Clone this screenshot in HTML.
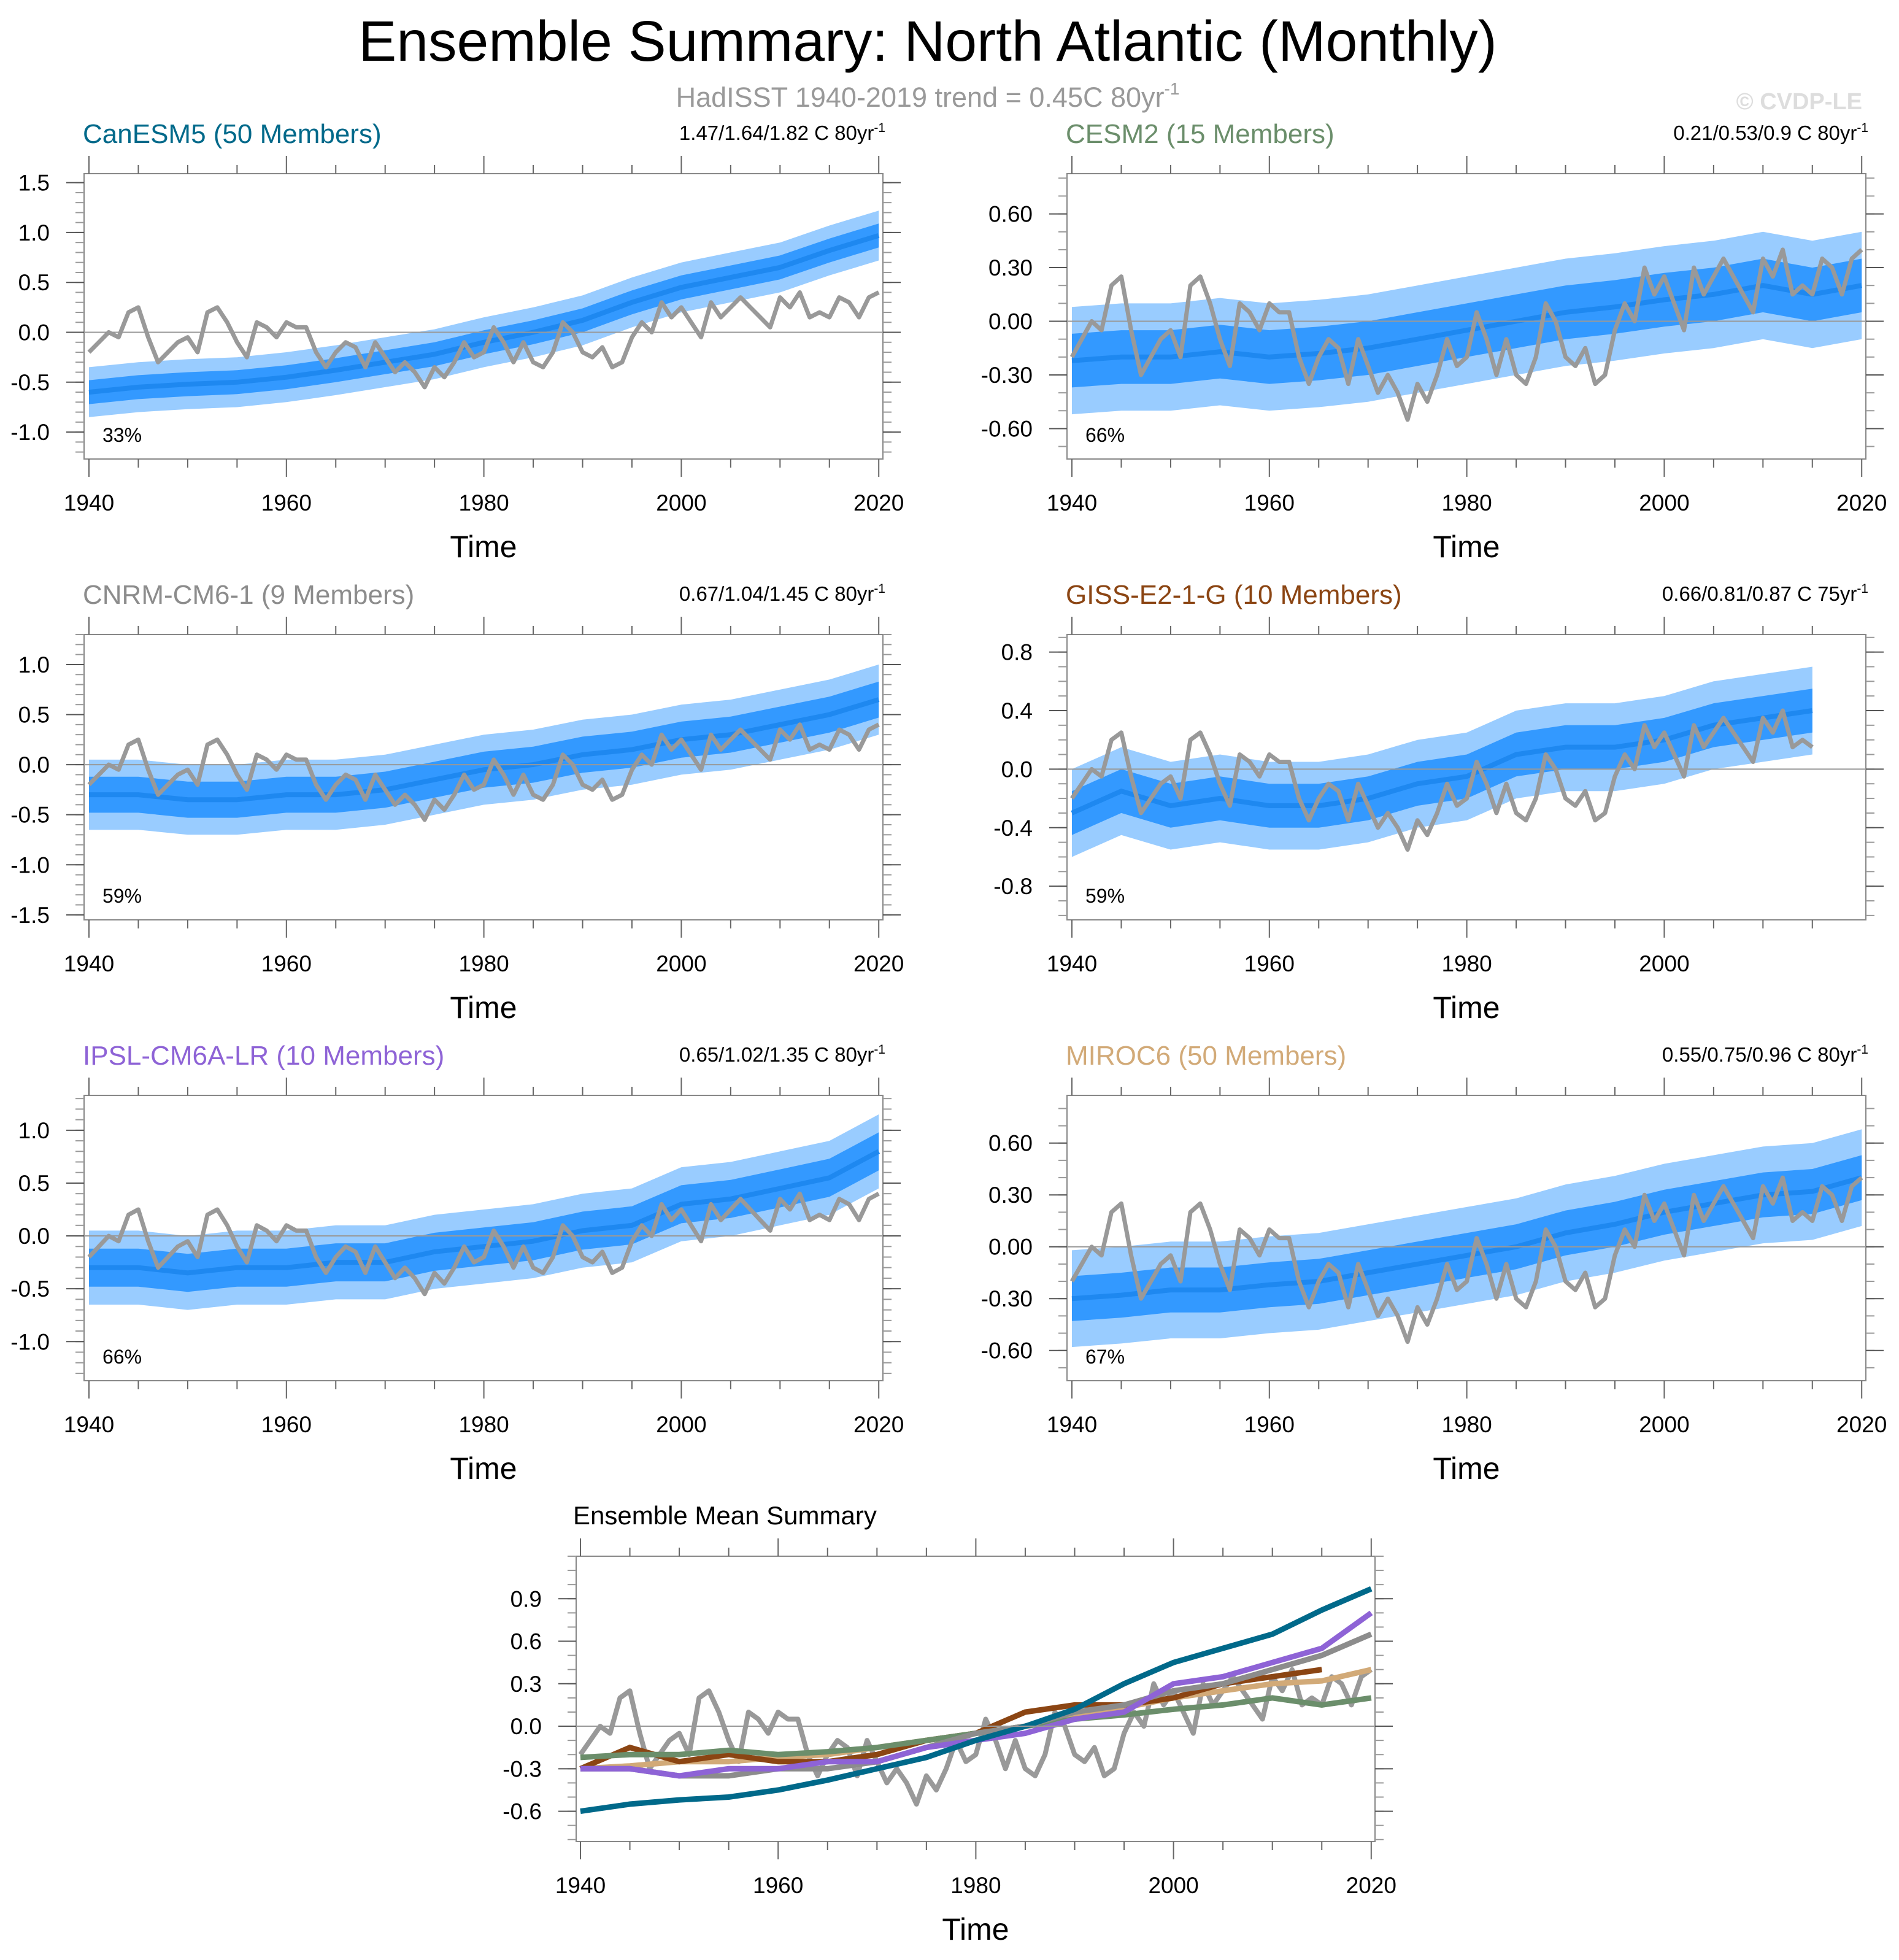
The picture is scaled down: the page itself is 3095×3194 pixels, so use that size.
<!DOCTYPE html>
<html><head><meta charset="utf-8"><style>
html,body{margin:0;padding:0;background:#fff;}
svg{display:block;font-family:"Liberation Sans",sans-serif;}
</style></head><body>
<svg id="c" width="3095" height="3194" viewBox="0 0 3095 3194" xmlns="http://www.w3.org/2000/svg">
<text x="1512" y="99" font-size="93" text-anchor="middle" fill="#000">Ensemble Summary: North Atlantic (Monthly)</text>
<text x="1512" y="174" font-size="45" text-anchor="middle" fill="#999">HadISST 1940-2019 trend = 0.45C 80yr<tspan font-size="28" dy="-20">-1</tspan></text>
<text x="3035" y="178" font-size="38" font-weight="bold" text-anchor="end" fill="#ddd">© CVDP-LE</text>
</svg>
<script>
// Observations (HadISST), yearly 1940..2020
const obsYears = [1940,1941,1942,1943,1944,1945,1946,1947,1948,1949,1950,1951,1952,1953,1954,1955,1956,1957,1958,1959,1960,1961,1962,1963,1964,1965,1966,1967,1968,1969,1970,1971,1972,1973,1974,1975,1976,1977,1978,1979,1980,1981,1982,1983,1984,1985,1986,1987,1988,1989,1990,1991,1992,1993,1994,1995,1996,1997,1998,1999,2000,2001,2002,2003,2004,2005,2006,2007,2008,2009,2010,2011,2012,2013,2014,2015,2016,2017,2018,2019,2020];
const obsValues = [-0.2,-0.1,0.0,-0.05,0.2,0.25,-0.05,-0.3,-0.2,-0.1,-0.05,-0.2,0.2,0.25,0.1,-0.1,-0.25,0.1,0.05,-0.05,0.1,0.05,0.05,-0.2,-0.35,-0.2,-0.1,-0.15,-0.35,-0.1,-0.25,-0.4,-0.3,-0.4,-0.55,-0.35,-0.45,-0.3,-0.1,-0.25,-0.2,0.05,-0.1,-0.3,-0.1,-0.3,-0.35,-0.2,0.1,0.0,-0.2,-0.25,-0.15,-0.35,-0.3,-0.05,0.1,0.0,0.3,0.15,0.25,0.1,-0.05,0.3,0.15,0.25,0.35,0.25,0.15,0.05,0.35,0.25,0.4,0.15,0.2,0.15,0.35,0.3,0.15,0.35,0.4];
// Model ensemble means, every 5 years from 1940
const modelYears = [1940,1945,1950,1955,1960,1965,1970,1975,1980,1985,1990,1995,2000,2005,2010,2015,2020];
const canesm5Mean = [-0.6,-0.55,-0.52,-0.5,-0.45,-0.38,-0.3,-0.22,-0.1,0.0,0.12,0.3,0.45,0.55,0.65,0.82,0.97];
const cesm2Mean = [-0.22,-0.2,-0.2,-0.17,-0.2,-0.18,-0.15,-0.1,-0.05,0.0,0.05,0.08,0.12,0.15,0.2,0.15,0.2];
const cnrmMean = [-0.3,-0.3,-0.35,-0.35,-0.3,-0.3,-0.25,-0.15,-0.05,0.0,0.1,0.15,0.25,0.3,0.4,0.5,0.65];
const gissMean = [-0.3,-0.15,-0.25,-0.2,-0.25,-0.25,-0.2,-0.1,-0.05,0.1,0.15,0.15,0.2,0.3,0.35,0.4];
const ipslMean = [-0.3,-0.3,-0.35,-0.3,-0.3,-0.25,-0.25,-0.15,-0.1,-0.05,0.05,0.1,0.3,0.35,0.45,0.55,0.8];
const mirocMean = [-0.3,-0.28,-0.25,-0.25,-0.22,-0.2,-0.15,-0.1,-0.05,0.0,0.08,0.13,0.2,0.25,0.3,0.32,0.4];
// Ensemble spread half-widths (outer = min/max, inner = 10-90%)
const spreadOuter = [0.25,0.3,0.35,0.3,0.35,0.28];
const spreadInner = [0.12,0.15,0.18,0.15,0.18,0.13];

const NS="http://www.w3.org/2000/svg";
const svg=document.getElementById('c');
function mk(tag,attrs,parent){const e=document.createElementNS(NS,tag);for(const k in attrs)e.setAttribute(k,attrs[k]);(parent||svg).appendChild(e);return e;}

const panels=[
 {name:'canesm5',title:'CanESM5 (50 Members)',color:'#00698a',trend:'1.47/1.64/1.82 C 80yr',pct:'33%',mean:canesm5Mean,x:137,y:283,ymin:-1.27,ymax:1.59,ticks:[1.5,1.0,0.5,0.0,-0.5,-1.0],fmt:1,minor:0.1,x1:2020.4,si:0},
 {name:'cesm2',title:'CESM2 (15 Members)',color:'#6b8e6b',trend:'0.21/0.53/0.9 C 80yr',pct:'66%',mean:cesm2Mean,x:1739,y:283,ymin:-0.77,ymax:0.825,ticks:[0.6,0.3,0,-0.3,-0.6],fmt:2,minor:0.1,x1:2020.4,si:1},
 {name:'cnrm',title:'CNRM-CM6-1 (9 Members)',color:'#8c8c8c',trend:'0.67/1.04/1.45 C 80yr',pct:'59%',mean:cnrmMean,x:137,y:1034,ymin:-1.55,ymax:1.30,ticks:[1.0,0.5,0,-0.5,-1.0,-1.5],fmt:1,minor:0.1,x1:2020.4,si:2},
 {name:'giss',title:'GISS-E2-1-G (10 Members)',color:'#8b4513',trend:'0.66/0.81/0.87 C 75yr',pct:'59%',mean:gissMean,x:1739,y:1034,ymin:-1.03,ymax:0.92,ticks:[0.8,0.4,0,-0.4,-0.8],fmt:1,minor:0.1,x1:2015.4,si:3},
 {name:'ipsl',title:'IPSL-CM6A-LR (10 Members)',color:'#8e63d6',trend:'0.65/1.02/1.35 C 80yr',pct:'66%',mean:ipslMean,x:137,y:1785,ymin:-1.37,ymax:1.33,ticks:[1.0,0.5,0,-0.5,-1.0],fmt:1,minor:0.1,x1:2020.4,si:4},
 {name:'miroc6',title:'MIROC6 (50 Members)',color:'#d2aa78',trend:'0.55/0.75/0.96 C 80yr',pct:'67%',mean:mirocMean,x:1739,y:1785,ymin:-0.775,ymax:0.876,ticks:[0.6,0.3,0,-0.3,-0.6],fmt:2,minor:0.1,x1:2020.4,si:5},
];
const W=1302,H=465;

function axes(g,p,ox,oy,xs,ys,x1){
  mk('rect',{x:ox,y:oy,width:W,height:H,fill:'none',stroke:'#888','stroke-width':2},g);
  for(let yr=1940;yr<=x1;yr+=5){
    const X=xs(yr), maj=yr%20===0;
    const L=maj?29:14;
    mk('line',{x1:X,y1:oy,x2:X,y2:oy-L,stroke:'#666','stroke-width':2},g);
    mk('line',{x1:X,y1:oy+H,x2:X,y2:oy+H+L,stroke:'#666','stroke-width':2},g);
    if(maj){const t=mk('text',{x:X,y:oy+H+84,'font-size':37,'text-anchor':'middle',fill:'#000'},g);t.textContent=yr;
      
      }
  }
  const lo=Math.ceil(p.ymin/p.minor-1e-6),hi=Math.floor(p.ymax/p.minor+1e-6);
  for(let k=lo;k<=hi;k++){const Y=ys(k*p.minor);
    mk('line',{x1:ox,y1:Y,x2:ox-14,y2:Y,stroke:'#999','stroke-width':2},g);
    mk('line',{x1:ox+W,y1:Y,x2:ox+W+14,y2:Y,stroke:'#999','stroke-width':2},g);}
  p.ticks.forEach(v=>{const Y=ys(v);
    mk('line',{x1:ox,y1:Y,x2:ox-29,y2:Y,stroke:'#555','stroke-width':2},g);
    mk('line',{x1:ox+W,y1:Y,x2:ox+W+29,y2:Y,stroke:'#555','stroke-width':2},g);
    const t=mk('text',{x:ox-56,y:Y+13,'font-size':37,'text-anchor':'end',fill:'#000'},g);t.textContent=v.toFixed(p.fmt);
    
    });
  const tt=mk('text',{x:ox+W/2,y:oy+H+160,'font-size':50,'text-anchor':'middle',fill:'#000'},g);tt.textContent='Time';
  
  
  mk('line',{x1:ox,y1:ys(0),x2:ox+W,y2:ys(0),stroke:'#999','stroke-width':2},g);
}
function linePath(xsArr,vals,xs,ys){return vals.map((v,i)=>(i?'L':'M')+xs(xsArr[i]).toFixed(1)+','+ys(v).toFixed(1)).join('');}
function bandPath(xsArr,vals,hw,xs,ys){let d='';vals.forEach((v,i)=>{d+=(i?'L':'M')+xs(xsArr[i]).toFixed(1)+','+ys(v+hw).toFixed(1);});
  for(let i=vals.length-1;i>=0;i--)d+='L'+xs(xsArr[i]).toFixed(1)+','+ys(vals[i]-hw).toFixed(1);return d+'Z';}

panels.forEach(p=>{
  const g=mk('g',{});
  
  
  const ox=p.x,oy=p.y;
  const xs=yr=>ox+8+(yr-1940)*16.09;
  const ys=v=>oy+(p.ymax-v)/(p.ymax-p.ymin)*H;
  const clipId='clip-'+p.name;
  const cp=mk('clipPath',{id:clipId},g);mk('rect',{x:ox,y:oy,width:W,height:H},cp);
  const dg=mk('g',{'clip-path':'url(#'+clipId+')'},g);
  const yrs=modelYears.slice(0,p.mean.length);
  const b1=mk('path',{d:bandPath(yrs,p.mean,spreadOuter[p.si],xs,ys),fill:'#99ccff'},dg);
  
  
  const b2=mk('path',{d:bandPath(yrs,p.mean,spreadInner[p.si],xs,ys),fill:'#3399ff'},dg);
  
  
  const ml=mk('path',{d:linePath(yrs,p.mean,xs,ys),fill:'none',stroke:'#1e88f0','stroke-width':8},dg);
  
  
  const oyrs=obsYears.filter(y=>y<=p.x1), ov=obsValues.slice(0,oyrs.length);
  const ol=mk('path',{d:linePath(oyrs,ov,xs,ys),fill:'none',stroke:'#999','stroke-width':7,'stroke-linejoin':'round'},dg);
  
  
  axes(g,p,ox,oy,xs,ys,p.x1);
  const t=mk('text',{x:ox-2,y:oy-50,'font-size':44,fill:p.color},g);t.textContent=p.title;
  
  
  const r=mk('text',{x:ox+W+4,y:oy-55,'font-size':33,'text-anchor':'end',fill:'#000'},g);
  r.innerHTML=p.trend+'<tspan font-size="21" dy="-13">-1</tspan>';
  
  
  const pc=mk('text',{x:ox+30,y:oy+H-28,'font-size':32,fill:'#000'},g);pc.textContent=p.pct;
  
  
});

// Bottom summary panel
(function(){
  const p={ymin:-0.814,ymax:1.2,ticks:[0.9,0.6,0.3,0,-0.3,-0.6],fmt:1,minor:0.1};
  const ox=939,oy=2536;
  const g=mk('g',{});
  
  
  const xs=yr=>ox+7+(yr-1940)*16.11;
  const ys=v=>oy+(p.ymax-v)/(p.ymax-p.ymin)*H;
  const cp=mk('clipPath',{id:'clip-sum'},g);mk('rect',{x:ox,y:oy,width:W,height:H},cp);
  const dg=mk('g',{'clip-path':'url(#clip-sum)'},g);
  const ol=mk('path',{d:linePath(obsYears,obsValues,xs,ys),fill:'none',stroke:'#999','stroke-width':8,'stroke-linejoin':'round'},dg);
  
  
  [5,3,1,2,4,0].forEach(i=>{const q=panels[i];
    const l=mk('path',{d:linePath(modelYears.slice(0,q.mean.length),q.mean,xs,ys),fill:'none',stroke:q.color,'stroke-width':9},dg);
    
    });
  axes(g,p,ox,oy,xs,ys,2020.4);
  const t=mk('text',{x:ox-5,y:oy-52,'font-size':42,fill:'#000'},g);t.textContent='Ensemble Mean Summary';
  
  
})();
</script>
</body></html>
